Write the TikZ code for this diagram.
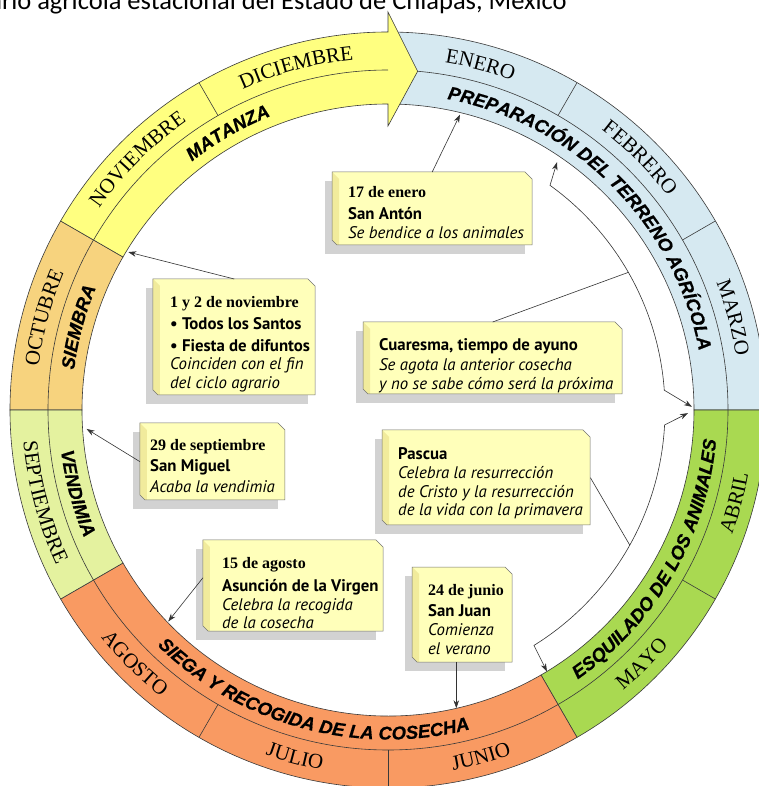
\documentclass[tikz,border=0pt]{standalone}
\usepackage{fontspec}
\setmainfont{Liberation Serif}
\newfontfamily\actfamily{Liberation Sans}[BoldItalicFeatures={FakeBold=0.6}]
\newfontfamily\boxsans{PT Sans}
\newfontfamily\titlefamily{Carlito}
\usetikzlibrary{decorations.text,arrows.meta}

\definecolor{cMat}{HTML}{FFFF80}
\definecolor{cPrep}{HTML}{D6E9F1}
\definecolor{cEsq}{HTML}{A9D951}
\definecolor{cSieg}{HTML}{F99A62}
\definecolor{cVend}{HTML}{E4F29F}
\definecolor{cSiem}{HTML}{F7D37E}
\definecolor{cardface}{HTML}{FFFFBA}
\definecolor{cardside}{HTML}{F1EB9C}
\definecolor{cardshadow}{HTML}{D2D2D2}
\definecolor{ringline}{HTML}{3A3A3A}

\newcommand\mfont{\rmfamily\fontsize{21}{21}\selectfont}
\newcommand\afont{\actfamily\bfseries\itshape\fontsize{18.5}{18.5}\selectfont}
\newcommand\dte{\rmfamily\bfseries\fontsize{16}{20}\selectfont}

\newcommand\sector[3]{%
  \filldraw[fill=#1, ringedge] (#2:378) arc[start angle=#2, end angle=#3, radius=378]
    -- (#3:306) arc[start angle=#3, end angle=#2, radius=306] -- cycle;}
\newcommand\arctext[5]{%
  \path[decorate, decoration={text along path, text={|#4|#5}, text align=center}]
    (#2:#1) arc[start angle=#2, end angle=#3, radius=#1];}
\newcommand\cardnode[5]{%
  \fill[cardshadow] (#2-7,#3+9) rectangle (#4-7,#5+9);
  \fill[cardface] (#2,#3) -- (#4-7,#3) -- (#4,#3+7) -- (#4,#5) -- (#2+5,#5) -- (#2,#5-5) -- cycle;
  \fill[cardside] (#2,#3) -- (#2+7,#3+7) -- (#2+7,#5) -- (#2+5,#5) -- (#2,#5-5) -- cycle;
  \draw[cardline] (#2,#3) -- (#4-7,#3) -- (#4,#3+7) -- (#4,#5) -- (#2+5,#5) -- (#2,#5-5) -- cycle;
  \node[cardbox, minimum width={#4-#2}, minimum height={#5-#3}] (#1) at (#2,#3) {};}

\tikzset{
  ringedge/.style={draw=ringline, line width=0.6pt},
  cardline/.style={draw=black!55, line width=0.5pt},
  cardbox/.style={rectangle, inner sep=0pt, anchor=north west, draw=none},
  cardtext/.style={anchor=north west, inner sep=0pt, align=left,
    font=\boxsans\fontsize{16.8}{19.5}\selectfont},
  conn/.style={draw=black!80, line width=0.6pt},
  tip/.style={-{Stealth[length=8pt,width=5.5pt]}},
}

\begin{document}
\begin{tikzpicture}[x=1pt,y=1pt]
\useasboundingbox (-388,-376) rectangle (371,410);
\clip (-388,-376) rectangle (371,410);
\fill[white] (-388,-376) rectangle (371,410);

% title (cut at the top)
\node[anchor=base east, inner sep=0pt, font=\titlefamily\fontsize{26.5}{26.5}\selectfont]
  (title) at (179,400) {Calendario agrícola estacional del Estado de Chiapas, México};

% ring sectors
\sector{cSiem}{150}{180}
\sector{cPrep}{0}{90}
\sector{cEsq}{-60}{0}
\sector{cSieg}{-150}{-60}
\sector{cVend}{-180}{-150}
\draw[ringedge] (0,0) circle[radius=340];
\foreach \a in {30,60,-30,-90,-120} \draw[ringedge] (\a:340) -- (\a:378);

% yellow arrow (matanza)
\filldraw[fill=cMat, ringedge] (150:378) arc[start angle=150, end angle=90, radius=378]
  -- (90:398) -- (85:340) -- (90:284) -- (90:306)
  arc[start angle=90, end angle=150, radius=306] -- cycle;
\draw[ringedge] (150:340) arc[start angle=150, end angle=90, radius=340];
\draw[ringedge] (120:340) -- (120:378);

% month names
\arctext{352}{180}{150}{\mfont}{OCTUBRE}
\arctext{352}{150}{120}{\mfont}{NOVIEMBRE}
\arctext{352}{120}{90}{\mfont}{DICIEMBRE}
\arctext{352}{90}{60}{\mfont}{ENERO}
\arctext{352}{60}{30}{\mfont}{FEBRERO}
\arctext{352}{30}{0}{\mfont}{MARZO}
\arctext{366}{-180}{-150}{\mfont}{SEPTIEMBRE}
\arctext{366}{-150}{-120}{\mfont}{AGOSTO}
\arctext{366}{-120}{-90}{\mfont}{JULIO}
\arctext{366}{-90}{-60}{\mfont}{JUNIO}
\arctext{366}{-60}{-30}{\mfont}{MAYO}
\arctext{366}{-30}{0}{\mfont}{ABRIL}

% activities
\arctext{316.5}{180}{150}{\afont}{SIEMBRA}
\arctext{316.5}{150}{90}{\afont}{MATANZA}
\arctext{316.5}{90}{0}{\afont}{PREPARACIÓN DEL TERRENO AGRÍCOLA}
\arctext{329.5}{-180}{-150}{\afont}{VENDIMIA}
\arctext{329.5}{-150}{-60}{\afont}{SIEGA Y RECOGIDA DE LA COSECHA}
\arctext{329.5}{-60}{0}{\afont}{ESQUILADO DE LOS ANIMALES}

% target points on the ring
\coordinate (t1) at (76.3:304);
\coordinate (t2) at (148.7:304);
\coordinate (t3) at (183.6:302);
\coordinate (t6) at (223.9:305);
\coordinate (t7) at (-77.1:306);
\coordinate (a1) at (55.7:300);
\coordinate (a2) at (0.6:304);
\coordinate (a3) at (-0.6:300);
\coordinate (a4) at (-58.7:306);
\coordinate (c1) at (29.8:277);
\coordinate (p1) at (-29.2:277);

% cards, in pixel coordinates
\begin{scope}[shift={(-388,410)}, yscale=-1]
\cardnode{b1}{332}{172}{532}{245}
\cardnode{b2}{153}{279}{315}{395}
\cardnode{b3}{140}{423}{285}{500}
\cardnode{b4}{363}{322}{622}{394}
\cardnode{b5}{382}{430}{590}{525}
\cardnode{b6}{203}{540}{383}{631}
\cardnode{b7}{412}{567}{512}{662}

\node[cardtext] (b1t) at (348,186) {{\dte 17 de enero}\\[3pt]
  \textbf{San Antón}\\[-1pt] \textit{Se bendice a los animales}};
\node[cardtext] (b2t) at (170,296) {{\dte 1 y 2 de noviembre}\\[3pt]
  \textbf{• Todos los Santos}\\[2pt] \textbf{• Fiesta de difuntos}\\[-1.5pt]
  \textit{Coinciden con el fin}\\[-0.5pt] \textit{del ciclo agrario}};
\node[cardtext] (b3t) at (150,439) {{\dte 29 de septiembre}\\[2pt]
  \textbf{San Miguel}\\[1pt] \textit{Acaba la vendimia}};
\node[cardtext] (b4t) at (379,338) {\textbf{Cuaresma, tiempo de ayuno}\\[0.5pt]
  \textit{Se agota la anterior cosecha}\\[-0.5pt] \textit{y no se sabe cómo será la próxima}};
\node[cardtext] (b5t) at (398,447) {\textbf{Pascua}\\[-0.5pt]
  \textit{Celebra la resurrección}\\[-0.5pt] \textit{de Cristo y la resurrección}\\[-1pt]
  \textit{de la vida con la primavera}};
\node[cardtext] (b6t) at (222,557) {{\dte 15 de agosto}\\[4pt]
  \textbf{Asunción de la Virgen}\\[-0.5pt] \textit{Celebra la recogida}\\[-2pt] \textit{de la cosecha}};
\node[cardtext] (b7t) at (428,584) {{\dte 24 de junio}\\[2pt]
  \textbf{San Juan}\\[-0.5pt] \textit{Comienza}\\[-0.5pt] \textit{el verano}};
\end{scope}

% connectors
\draw[conn, tip] (b1.north) -- (t1);
\draw[conn, tip] (b2.north) -- (t2);
\draw[conn, tip] (b3.west) -- (t3);
\draw[conn, tip] ([yshift=8pt]b6.west) -- (t6);
\draw[conn, tip] (t7 |- b7.south) -- (t7);
\draw[conn, {Stealth[length=8pt,width=5.5pt]}-{Stealth[length=8pt,width=5.5pt]}]
  (a1) -- (54.2:277) arc[start angle=54.2, end angle=4.1, radius=277] -- (a2);
\draw[conn, {Stealth[length=8pt,width=5.5pt]}-{Stealth[length=8pt,width=5.5pt]}]
  (a3) -- (-3.1:277) arc[start angle=-3.1, end angle=-58.2, radius=277] -- (a4);
\draw[conn] (b4.north) -- (c1);
\draw[conn] (b5.east) -- (p1);
\end{tikzpicture}
\end{document}
